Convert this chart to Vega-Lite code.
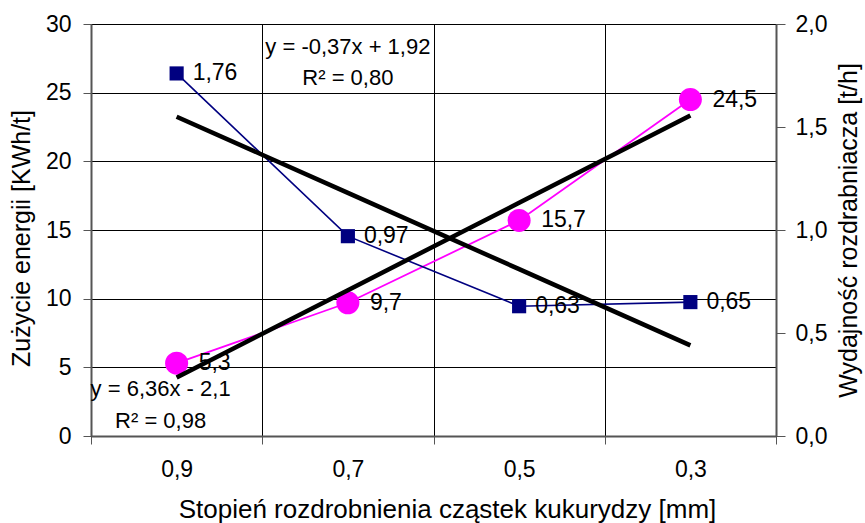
{
  "$schema": "https://vega.github.io/schema/vega-lite/v6.json",
  "width": 685,
  "height": 412,
  "autosize": {"type": "none"},
  "padding": {"left": 91, "top": 24, "right": 89, "bottom": 87},
  "background": "white",
  "config": {
    "font": "Liberation Sans",
    "view": {"stroke": null},
    "locale": {"number": {"decimal": ",", "thousands": "\u00a0", "grouping": [3], "currency": ["", " zł"]}}
  },
  "datasets": {
    "main": [
      {"stopien": "0,9", "energia": 5.3, "wydajnosc": 1.76, "trendE": 4.26, "trendW": 1.55},
      {"stopien": "0,7", "energia": 9.7, "wydajnosc": 0.97, "trendE": 10.62, "trendW": 1.18},
      {"stopien": "0,5", "energia": 15.7, "wydajnosc": 0.63, "trendE": 16.98, "trendW": 0.81},
      {"stopien": "0,3", "energia": 24.5, "wydajnosc": 0.65, "trendE": 23.34, "trendW": 0.44}
    ],
    "eq": [
      {"stopien": "0,7", "grupa": "w", "y": 28.3, "tekst": "y = -0,37x + 1,92"},
      {"stopien": "0,7", "grupa": "w", "y": 26.1, "tekst": "R² = 0,80"},
      {"stopien": "0,9", "grupa": "e", "y": 3.4, "tekst": "y = 6,36x - 2,1"},
      {"stopien": "0,9", "grupa": "e", "y": 1.1, "tekst": "R² = 0,98"}
    ]
  },
  "data": {"name": "main"},
  "encoding": {
    "x": {
      "field": "stopien",
      "type": "nominal",
      "sort": ["0,9", "0,7", "0,5", "0,3"],
      "scale": {"type": "band", "paddingInner": 0, "paddingOuter": 0},
      "axis": {
        "title": "Stopień rozdrobnienia cząstek kukurydzy [mm]",
        "titleFontSize": 26,
        "titleFontWeight": "normal",
        "titleColor": "black",
        "titlePadding": 15,
        "titleX": 356,
        "labelAngle": 0,
        "labelFontSize": 23,
        "labelColor": "black",
        "labelPadding": 14,
        "tickBand": "extent",
        "tickSize": 8,
        "tickColor": "#555",
        "grid": true,
        "gridColor": "black",
        "gridWidth": 1,
        "domainColor": "#555",
        "domainWidth": 2
      }
    }
  },
  "layer": [
    {
      "mark": {"type": "line", "color": "#ff00ff", "strokeWidth": 1.8},
      "encoding": {
        "y": {
          "field": "energia", "type": "quantitative",
          "scale": {"domain": [0, 30], "nice": false, "zero": true},
          "axis": {
            "orient": "left",
            "title": "Zużycie energii [KWh/t]",
            "titleFontSize": 25,
            "titleFontWeight": "normal",
            "titleColor": "black",
            "titlePadding": 11,
            "titleY": 214,
            "values": [0, 5, 10, 15, 20, 25, 30],
            "format": "d",
            "labelFontSize": 23,
            "labelColor": "black",
            "labelPadding": 12,
            "tickSize": 8,
            "tickColor": "#555",
            "grid": true,
            "gridColor": "black",
            "gridWidth": 1,
            "domainColor": "#555",
            "domainWidth": 2
          }
        }
      }
    },
    {
      "mark": {"type": "point", "shape": "circle", "filled": true, "color": "#ff00ff", "size": 530, "opacity": 1},
      "encoding": {
        "y": {"field": "energia", "type": "quantitative", "scale": {"domain": [0, 30], "nice": false}, "axis": null}
      }
    },
    {
      "mark": {"type": "line", "color": "#000080", "strokeWidth": 1.6},
      "encoding": {
        "y": {
          "field": "wydajnosc", "type": "quantitative",
          "scale": {"domain": [0, 2], "nice": false},
          "axis": {
            "orient": "right",
            "title": "Wydajność rozdrabniacza [t/h]",
            "titleFontSize": 25,
            "titleFontWeight": "normal",
            "titleColor": "black",
            "titleAngle": 270,
            "titleBaseline": "top",
            "titlePadding": 10,
            "values": [0, 0.5, 1, 1.5, 2],
            "format": ".1f",
            "labelFontSize": 23,
            "labelColor": "black",
            "labelPadding": 10,
            "tickSize": 9,
            "tickColor": "#555",
            "grid": false,
            "domainColor": "#555",
            "domainWidth": 2
          }
        }
      }
    },
    {
      "mark": {"type": "point", "shape": "square", "filled": true, "color": "#000080", "size": 200, "opacity": 1},
      "encoding": {
        "y": {"field": "wydajnosc", "type": "quantitative", "scale": {"domain": [0, 2], "nice": false}, "axis": null}
      }
    },
    {
      "mark": {"type": "line", "color": "black", "strokeWidth": 4.5},
      "encoding": {
        "y": {"field": "trendE", "type": "quantitative", "scale": {"domain": [0, 30], "nice": false}, "axis": null}
      }
    },
    {
      "mark": {"type": "line", "color": "black", "strokeWidth": 4.5},
      "encoding": {
        "y": {"field": "trendW", "type": "quantitative", "scale": {"domain": [0, 2], "nice": false}, "axis": null}
      }
    },
    {
      "mark": {"type": "text", "align": "left", "baseline": "middle", "dx": 22, "fontSize": 23, "color": "black"},
      "encoding": {
        "y": {"field": "energia", "type": "quantitative", "scale": {"domain": [0, 30], "nice": false}, "axis": null},
        "text": {"field": "energia", "type": "quantitative", "format": ".1f"}
      }
    },
    {
      "mark": {"type": "text", "align": "left", "baseline": "middle", "dx": 16, "fontSize": 23, "color": "black"},
      "encoding": {
        "y": {"field": "wydajnosc", "type": "quantitative", "scale": {"domain": [0, 2], "nice": false}, "axis": null},
        "text": {"field": "wydajnosc", "type": "quantitative", "format": ".2f"}
      }
    },
    {
      "data": {"name": "eq"},
      "transform": [{"filter": "datum.grupa === 'w'"}],
      "mark": {"type": "text", "align": "center", "baseline": "middle", "fontSize": 22, "color": "black"},
      "encoding": {
        "y": {"field": "y", "type": "quantitative", "scale": {"domain": [0, 30], "nice": false}, "axis": null},
        "text": {"field": "tekst", "type": "nominal"}
      }
    },
    {
      "data": {"name": "eq"},
      "transform": [{"filter": "datum.grupa === 'e'"}],
      "mark": {"type": "text", "align": "center", "baseline": "middle", "dx": -16, "fontSize": 22, "color": "black"},
      "encoding": {
        "y": {"field": "y", "type": "quantitative", "scale": {"domain": [0, 30], "nice": false}, "axis": null},
        "text": {"field": "tekst", "type": "nominal"}
      }
    }
  ],
  "resolve": {"scale": {"y": "independent"}}
}
